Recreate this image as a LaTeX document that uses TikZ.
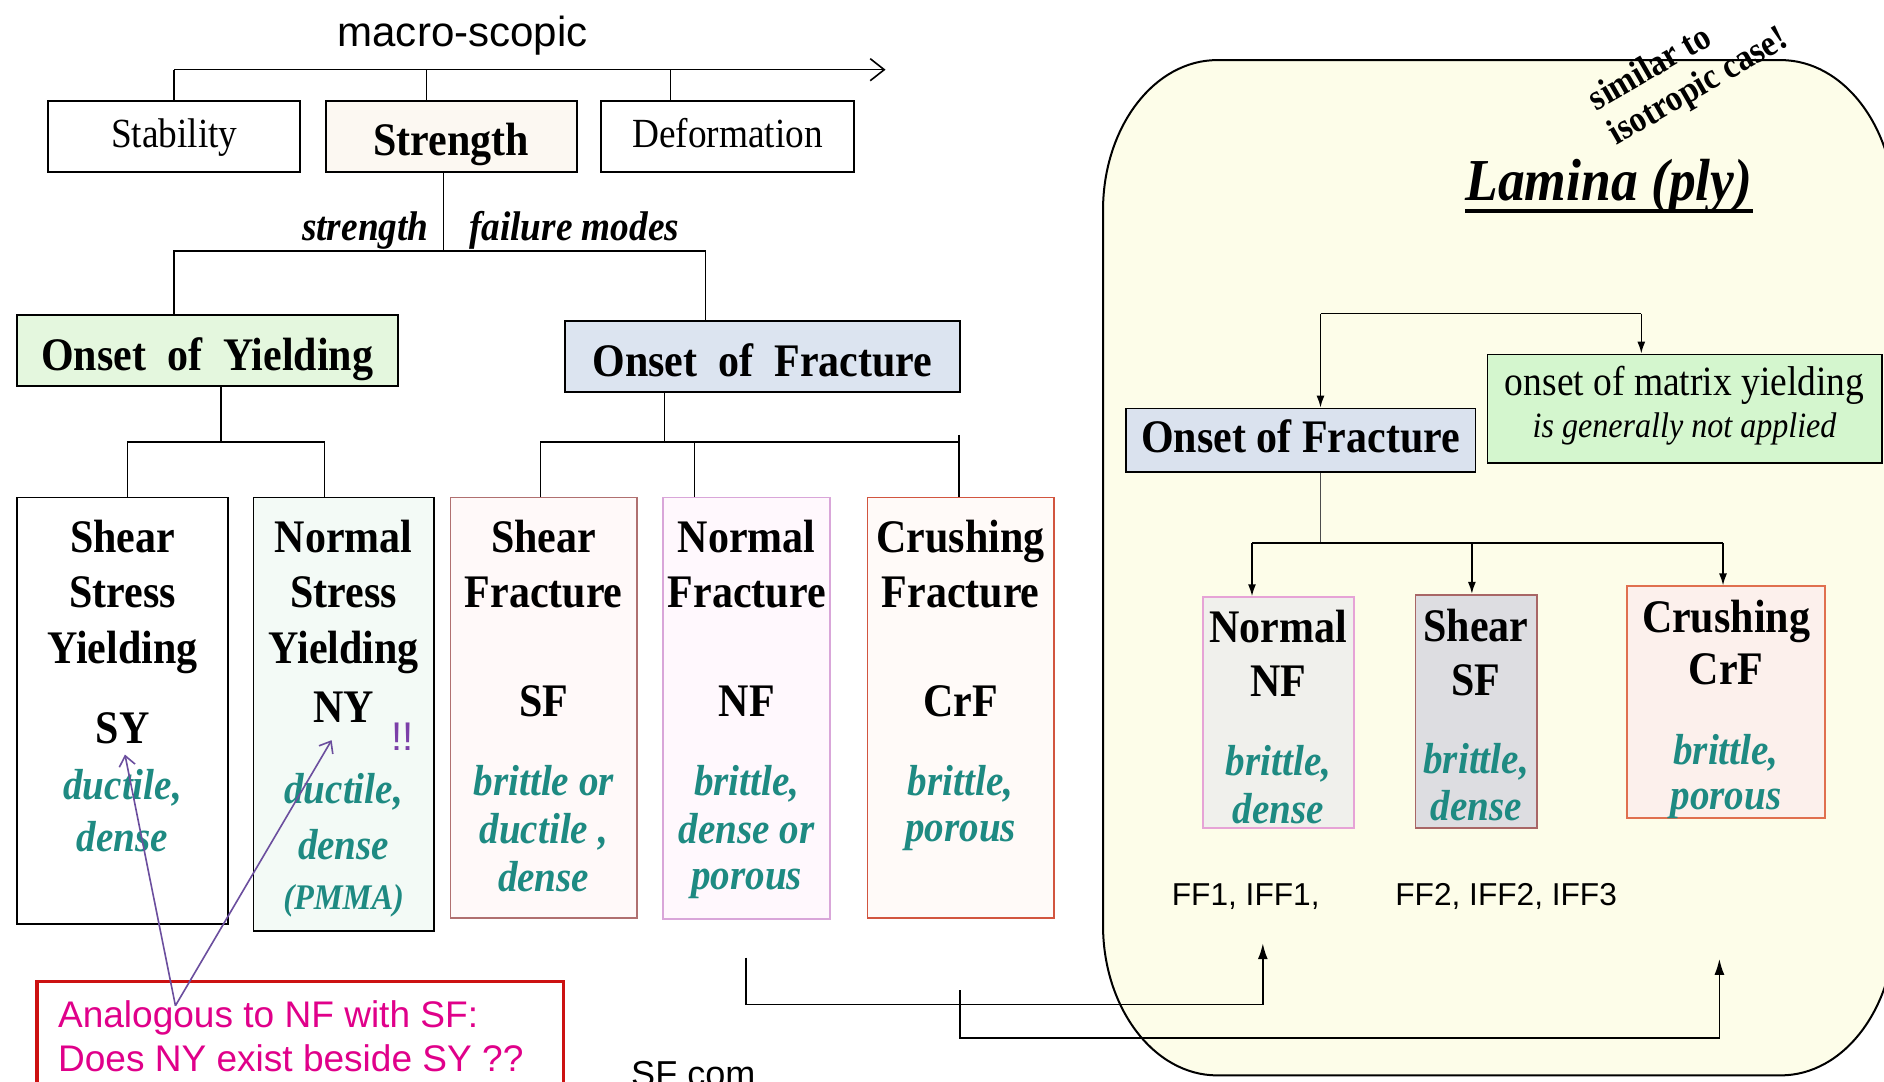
\documentclass[tikz,border=0pt]{standalone}
\usepackage{fontspec}
\setmainfont{Liberation Serif}[FakeStretch=0.9]
\newfontfamily\sansf{Liberation Sans}
\usetikzlibrary{arrows.meta,fit,calc}
\definecolor{tealt}{HTML}{1E8A82}
\definecolor{strfill}{HTML}{FCF8F2}
\definecolor{yldfill}{HTML}{E4F7DE}
\definecolor{frcfill}{HTML}{DCE4F0}
\definecolor{nyfill}{HTML}{F3FAF6}
\definecolor{sfdraw}{HTML}{B07070}
\definecolor{sffill}{HTML}{FFF9F9}
\definecolor{nfdraw}{HTML}{D9A6D9}
\definecolor{nffill}{HTML}{FFF8FD}
\definecolor{crfdraw}{HTML}{D2553F}
\definecolor{crffill}{HTML}{FFFAF8}
\definecolor{panelfill}{HTML}{FDFDE9}
\definecolor{mybfill}{HTML}{D4F6CE}
\definecolor{oftwofill}{HTML}{DAE2EE}
\definecolor{nftwodraw}{HTML}{E6A3D6}
\definecolor{nftwofill}{HTML}{F0F0EC}
\definecolor{sftwodraw}{HTML}{A86666}
\definecolor{sftwofill}{HTML}{DDDDE1}
\definecolor{crftwodraw}{HTML}{E0704F}
\definecolor{crftwofill}{HTML}{FCF0EC}
\definecolor{purpa}{HTML}{6B4E9E}
\definecolor{bangc}{HTML}{7B3FA8}
\definecolor{redbox}{HTML}{CC1111}
\definecolor{magt}{HTML}{E0008A}
\tikzset{
  bx/.style={draw, line width=0.9pt, inner sep=0pt},
  hd/.style={font=\fontsize{23.3}{23.3}\selectfont\bfseries, anchor=base, inner sep=0pt},
  rm/.style={font=\fontsize{20.7}{20.7}\selectfont, anchor=base, inner sep=0pt},
  itl/.style={font=\fontsize{21.7}{21.7}\selectfont\bfseries\itshape, text=tealt, anchor=base, inner sep=0pt},
  lbl/.style={font=\fontsize{20.7}{20.7}\selectfont\bfseries\itshape, inner sep=0pt},
  sns/.style={font=\sansf\fontsize{15.8}{15.8}\selectfont, anchor=base west, inner sep=0pt},
  mag/.style={font=\sansf\fontsize{18.5}{18.5}\selectfont, text=magt, anchor=base west, inner sep=0pt},
  ln/.style={line width=0.8pt},
  dar/.style={line width=0.8pt, -{Latex[length=6pt,width=4pt]}},
  bar/.style={line width=0.9pt, -{Latex[length=8pt,width=5pt]}},
  pa/.style={line width=0.8pt, draw=purpa, -{Straight Barb[length=5pt,width=8pt]}},
}
\begin{document}
\begin{tikzpicture}[x=0.6pt,y=-0.6pt]
\useasboundingbox (0,0) rectangle (1568,900);
\clip (0,0) rectangle (1568,900);
\fill[white] (0,0) rectangle (1568,900);

% ---------- right panel background ----------
\draw[line width=1pt, fill=panelfill]
  (1482,50) .. controls (1534.5,50) and (1577,106) .. (1577,175)
  -- (1577,770) .. controls (1577,839) and (1534.5,895) .. (1482,895)
  -- (1013,895) .. controls (960.5,895) and (918,839) .. (918,770)
  -- (918,175) .. controls (918,106) and (960.5,50) .. (1013,50) -- cycle;

% ---------- top ----------
\node[font=\sansf\fontsize{21}{21}\selectfont, anchor=base, inner sep=0pt] (macro) at (385,39) {macro-scopic};
\node[bx, fit={(40,84)(250,143)}] (stab) {};
\node[rm] (stabt) at (145,123) {Stability};
\node[bx, fill=strfill, fit={(271,84)(480,143)}] (str) {};
\node[hd] (strt) at (375.5,129) {Strength};
\node[bx, fit={(500,84)(711,143)}] (def) {};
\node[rm] (deft) at (605.5,123) {Deformation};

\coordinate (axL) at (145,58);
\coordinate (axR) at (737,58);
\coordinate (a2) at (355,58);
\coordinate (a3) at (558,58);
\draw[ln, -{Straight Barb[length=7pt,width=11pt]}] (axL) -- (axR);
\draw[ln] (stab.north) -- (stab.north |- axL);
\draw[ln] (a2) -- (a2 |- str.north);
\draw[ln] (a3) -- (a3 |- def.north);

\coordinate (j0) at (369,209);
\coordinate (j1) at (145,209);
\coordinate (j2) at (587,209);
\draw[ln] (j0 |- str.south) -- (j0);
\node[lbl, anchor=base east] (lstr) at (357,200) {strength};
\node[lbl, anchor=base west] (lfm) at (390,200) {failure modes};

\node[bx, fill=yldfill, fit={(14,262)(331,321)}] (yld) {};
\node[hd] (yldt) at (172.5,308) {Onset\ \ of\ \ Yielding};
\node[bx, fill=frcfill, fit={(470,267)(799,326)}] (frc) {};
\node[hd] (frct) at (634.5,313) {Onset\ \ of\ \ Fracture};
\draw[ln] (j1 |- yld.north) -- (j1) -- (j2) -- (j2 |- frc.north);

% ---------- bottom row boxes ----------
\node[bx, fit={(14,414)(190,769)}] (sy) {};
\node[bx, fill=nyfill, fit={(211,414)(361,775)}] (ny) {};
\node[bx, draw=sfdraw, fill=sffill, fit={(375,414)(530,764)}] (sf) {};
\node[bx, draw=nfdraw, fill=nffill, fit={(552,414)(691,765)}] (nf) {};
\node[bx, draw=crfdraw, fill=crffill, fit={(722,414)(877,764)}] (crf) {};

\coordinate (k0) at (184,368);
\coordinate (k1) at (106,368);
\coordinate (k2) at (270,368);
\draw[ln] (k0 |- yld.south) -- (k0);
\draw[ln] (k1 |- sy.north) -- (k1) -- (k2) -- (k2 |- ny.north);
\coordinate (m0) at (553,368);
\coordinate (m1) at (450,368);
\coordinate (m2) at (578,368);
\coordinate (m3) at (798,368);
\coordinate (m3t) at (798,362);
\draw[ln] (m0 |- frc.south) -- (m0);
\draw[ln] (m1 |- sf.north) -- (m1) -- (m3);
\draw[ln] (m2) -- (m2 |- nf.north);
\draw[ln] (m3t) -- (m3t |- crf.north);

% SY
\node[hd] (sy1) at (102,460) {Shear};
\node[hd] (sy2) at (102,506) {Stress};
\node[hd] (sy3) at (102,552) {Yielding};
\node[hd] (sy4) at (102,619) {SY};
\node[itl] (sy5) at (102,665) {ductile,};
\node[itl] (sy6) at (102,709) {dense};
% NY
\node[hd] (ny1) at (286,460) {Normal};
\node[hd] (ny2) at (286,506) {Stress};
\node[hd] (ny3) at (286,552) {Yielding};
\node[hd] (ny4) at (286,601) {NY};
\node[font=\sansf\fontsize{20}{20}\selectfont, text=bangc, anchor=base, inner sep=0pt] (bang) at (335,625) {!!};
\node[itl] (ny5) at (286,669) {ductile,};
\node[itl] (ny6) at (286,715) {dense};
\node[itl, font=\fontsize{18}{18}\selectfont\bfseries\itshape] (ny7) at (286,757) {(PMMA)};
% SF
\node[hd] (sf1) at (452.5,460) {Shear};
\node[hd] (sf2) at (452.5,506) {Fracture};
\node[hd] (sf3) at (452.5,596) {SF};
\node[itl] (sf4) at (452.5,662) {brittle or};
\node[itl] (sf5) at (452.5,702) {ductile ,};
\node[itl] (sf6) at (452.5,742) {dense};
% NF
\node[hd] (nf1) at (621.5,460) {Normal};
\node[hd] (nf2) at (621.5,506) {Fracture};
\node[hd] (nf3) at (621.5,596) {NF};
\node[itl] (nf4) at (621.5,662) {brittle,};
\node[itl] (nf5) at (621.5,702) {dense or};
\node[itl] (nf6) at (621.5,740) {porous};
% CrF
\node[hd] (cr1) at (799.5,460) {Crushing};
\node[hd] (cr2) at (799.5,506) {Fracture};
\node[hd] (cr3) at (799.5,596) {CrF};
\node[itl] (cr4) at (799.5,662) {brittle,};
\node[itl] (cr5) at (799.5,700) {porous};

% ---------- red question box ----------
\node[draw=redbox, line width=1.8pt, inner sep=0pt, fit={(31,817)(469,915)}] (ana) {};
\node[mag] (ana1) at (48,855) {Analogous to NF with SF:};
\node[mag] (ana2) at (48,892) {Does NY exist beside SY ??};
\coordinate (ap) at (146,837);
\coordinate (syp) at (104,628);
\coordinate (nyp) at (276,616);
\draw[pa] (ap) -- (syp);
\draw[pa] (ap) -- (nyp);

\node[font=\sansf\fontsize{18}{18}\selectfont, anchor=base west, inner sep=0pt] (sfc) at (525,904) {SF com};

% ---------- right panel content ----------
\node[font=\fontsize{18.3}{19.8}\selectfont\bfseries, rotate=30, align=left, anchor=north west, inner sep=0pt] (sim) at (1318,74) {similar to\\isotropic case!};
\node[font=\fontsize{29.7}{29.7}\selectfont\bfseries\itshape, anchor=base, inner sep=0pt] (lam) at (1339,167) {Lamina (ply)};
\draw[line width=2pt] ([yshift=-5pt]lam.base west) -- ([yshift=-5pt]lam.base east);

\node[bx, fill=oftwofill, fit={(937,340)(1228,393)}] (oftwo) {};
\node[hd] (oftwot) at (1082.5,377) {Onset of Fracture};
\node[bx, fill=mybfill, fit={(1238,295)(1566,385)}] (myb) {};
\node[font=\fontsize{20.8}{20.8}\selectfont, anchor=base, inner sep=0pt] (myb1) at (1402,329) {onset of matrix yielding};
\node[font=\fontsize{17.8}{17.8}\selectfont\itshape, anchor=base, inner sep=0pt] (myb2) at (1402,364) {is generally not applied};

\coordinate (t1) at (1099,261);
\coordinate (t2) at (1366,261);
\draw[ln] (t1) -- (t2);
\draw[dar] (t1) -- (t1 |- oftwo.north);
\draw[dar] (t2) -- (t2 |- myb.north);

\node[bx, draw=nftwodraw, fill=nftwofill, fit={(1001,497)(1127,689)}] (nftwo) {};
\node[bx, draw=sftwodraw, fill=sftwofill, fit={(1178,495)(1279,689)}] (sftwo) {};
\node[bx, draw=crftwodraw, fill=crftwofill, fit={(1354,488)(1519,681)}] (crftwo) {};

\coordinate (u0) at (1099,452);
\coordinate (u1) at (1042,452);
\coordinate (u2) at (1225,452);
\coordinate (u3) at (1434,452);
\draw[ln, draw=black!70] (u0 |- oftwo.south) -- (u0);
\draw[ln] (u1) -- (u3);
\draw[dar] (u1) -- (u1 |- nftwo.north);
\draw[dar] (u2) -- (u2 |- sftwo.north);
\draw[dar] (u3) -- (u3 |- crftwo.north);

\node[hd] (nft1) at (1064,535) {Normal};
\node[hd] (nft2) at (1064,580) {NF};
\node[itl] (nft3) at (1064,645) {brittle,};
\node[itl] (nft4) at (1064,685) {dense};
\node[hd] (sft1) at (1228.5,534) {Shear};
\node[hd] (sft2) at (1228.5,579) {SF};
\node[itl] (sft3) at (1228.5,644) {brittle,};
\node[itl] (sft4) at (1228.5,683) {dense};
\node[hd] (crt1) at (1436.5,526) {Crushing};
\node[hd] (crt2) at (1436.5,570) {CrF};
\node[itl] (crt3) at (1436.5,636) {brittle,};
\node[itl] (crt4) at (1436.5,674) {porous};

\node[sns] (ffone) at (975,754) {FF1, IFF1,};
\node[sns] (fftwo) at (1161,754) {FF2, IFF2, IFF3};

% ---------- bottom connectors ----------
\coordinate (c1s) at (621,797);
\coordinate (c1m) at (1051,836);
\coordinate (c1e) at (1051,785);
\draw[bar] (c1s) |- (c1m) -- (c1e);
\coordinate (c2s) at (799,824);
\coordinate (c2m) at (1431,864);
\coordinate (c2e) at (1431,798);
\draw[bar] (c2s) |- (c2m) -- (c2e);
\end{tikzpicture}
\end{document}
